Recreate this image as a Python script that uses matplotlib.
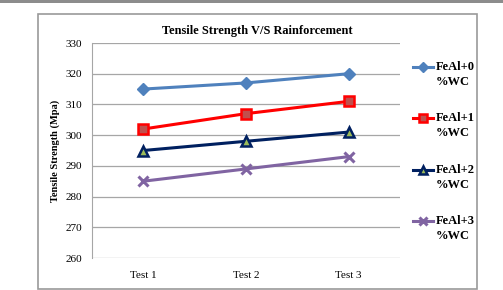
import matplotlib
matplotlib.use("Agg")
import matplotlib.pyplot as plt
from matplotlib.patches import Rectangle
from matplotlib.legend_handler import HandlerLine2D

plt.rcParams['font.family'] = ['Liberation Serif', 'DejaVu Serif']

# data
tests = ["Test 1", "Test 2", "Test 3"]
feal_0 = [315, 317, 320]
feal_1 = [302, 307, 311]
feal_2 = [295, 298, 301]
feal_3 = [285, 289, 293]
labels = ["FeAl+0\n%WC", "FeAl+1\n%WC", "FeAl+2\n%WC", "FeAl+3\n%WC"]
y_ticks = [260, 270, 280, 290, 300, 310, 320, 330]


class FirstLineHandler(HandlerLine2D):
    """Legend line drawn level with the first line of a two-line label."""
    def create_artists(self, legend, orig_handle, xdescent, ydescent,
                       width, height, fontsize, trans):
        return super().create_artists(legend, orig_handle, xdescent, ydescent,
                                      width, height + 1.25 * fontsize,
                                      fontsize, trans)


W, H = 503, 290
fig = plt.figure(figsize=(W / 100, H / 100), dpi=100)

# top grey band and chart frame (kept behind the axes)
fig.patches.append(Rectangle((0, (H - 3) / H), 1, 3 / H, transform=fig.transFigure,
                             facecolor="#8c8c8c", edgecolor="none", zorder=-5))
fig.patches.append(Rectangle((38 / W, 1 / H), 439 / W, 275 / H,
                             transform=fig.transFigure, facecolor="white",
                             edgecolor="#9a9a9a", linewidth=1.2, zorder=-5))

ax = fig.add_axes([92 / W, (H - 258) / H, 308 / W, 215 / H])
ax.patch.set_alpha(0)
x = range(len(tests))

ax.plot(x, feal_0, color="#4F81BD", lw=2.2, marker="D", ms=6,
        mfc="#4F81BD", mec="#4F81BD", label=labels[0])
ax.plot(x, feal_1, color="#FF0000", lw=2.2, marker="s", ms=7,
        mfc="#C0504D", mec="#FF0000", mew=1.8, label=labels[1])
ax.plot(x, feal_2, color="#002060", lw=2.2, marker="^", ms=7,
        mfc="#9BBB59", mec="#002060", mew=1.8, label=labels[2])
ax.plot(x, feal_3, color="#8064A2", lw=2.2, marker="x", ms=7,
        mew=2.2, label=labels[3])

ax.set_xlim(-0.5, 2.5)
ax.set_ylim(260, 330)
ax.set_yticks(y_ticks)
ax.set_xticks(list(x))
ax.set_xticklabels(tests)
ax.tick_params(axis="both", length=0, labelsize=8, colors="black")
ax.tick_params(axis="y", pad=7)
ax.tick_params(axis="x", pad=9)
ax.yaxis.grid(True, color="#a6a6a6", lw=0.9)
ax.set_axisbelow(True)
for s in ["top", "right", "bottom"]:
    ax.spines[s].set_visible(False)
ax.spines["left"].set_color("#a6a6a6")

ax.set_ylabel("Tensile Strength (Mpa)", fontsize=7.5, fontweight="bold", labelpad=4)
fig.text(257 / W, 1 - 31 / H, "Tensile Strength V/S Rainforcement",
         ha="center", va="center", fontsize=8.9, fontweight="bold")

leg = ax.legend(loc="upper left", bbox_to_anchor=(413 / W, 1 - 61 / H),
                bbox_transform=fig.transFigure, frameon=False,
                prop={"weight": "bold", "size": 9}, handlelength=1.6,
                handletextpad=0.25, labelspacing=1.98, borderpad=0,
                borderaxespad=0, markerscale=0.85,
                handler_map={plt.Line2D: FirstLineHandler()})
for t in leg.get_texts():
    t.set_linespacing(1.3)

fig.savefig("out.png", dpi=100)
